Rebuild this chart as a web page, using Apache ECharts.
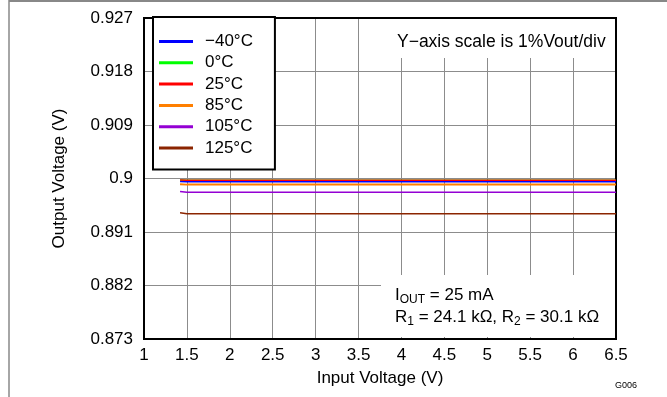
<!DOCTYPE html>
<html>
<head>
<meta charset="utf-8">
<script src="https://cdn.jsdelivr.net/npm/echarts@6/dist/echarts.min.js"></script>
<style>
    html, body { margin: 0; padding: 0; background: #fff; }
    #chart { width: 667px; height: 397px; }
</style>
</head>
<body>
<div id="chart"></div>
<script>
// input voltage sample points (V)
var inputVoltage = [1.42, 1.5, 6.5];

// output voltage per temperature (V)
var vMinus40 = [0.89950, 0.89946, 0.89946];
var v0 = [0.89974, 0.89971, 0.89971];
var v25 = [0.89974, 0.89970, 0.89970];
var v85 = [0.89905, 0.89897, 0.89897];
var v105 = [0.89782, 0.89768, 0.89768];
var v125 = [0.89424, 0.89408, 0.89408];

var seriesNames = ['\u221240\u00b0C', '0\u00b0C', '25\u00b0C', '85\u00b0C', '105\u00b0C', '125\u00b0C'];
var seriesColors = ['#0000FF', '#00FF00', '#FF0000', '#FF7F00', '#9400D3', '#8B2500'];
var seriesValues = [vMinus40, v0, v25, v85, v105, v125];

var xTickLabels = ['1', '1.5', '2', '2.5', '3', '3.5', '4', '4.5', '5', '5.5', '6', '6.5'];
var yTickLabels = ['0.873', '0.882', '0.891', '0.9', '0.909', '0.918', '0.927'];

var FONT = "'Liberation Sans', Arial, Helvetica, sans-serif";

var CHART = {
    ID: 'chart',
    ini: function () {
        var chart = echarts.init(document.getElementById(this.ID));
        chart.setOption(this.option());
    },
    buildSeries: function () {
        var list = [];
        for (var i = 0; i < seriesNames.length; i++) {
            var points = [];
            for (var j = 0; j < inputVoltage.length; j++) {
                points.push([inputVoltage[j], seriesValues[i][j]]);
            }
            list.push({
                name: seriesNames[i],
                type: 'line',
                data: points,
                symbol: 'none',
                z: 5,
                lineStyle: { color: seriesColors[i], width: i === 3 ? 2 : 1.5 },
                itemStyle: { color: seriesColors[i] }
            });
        }
        return list;
    },
    option: function () {
        return {
            animation: false,
            textStyle: { fontFamily: FONT },
            grid: {
                left: 144, right: 51, top: 18, bottom: 58,
                show: true,
                borderColor: '#000',
                borderWidth: 2,
                z: 3
            },
            legend: {
                orient: 'vertical',
                left: 153,
                top: 17,
                padding: [16, 22, 13, 6],
                icon: 'path://M0,0 L34,0 L34,3 L0,3 Z',
                itemWidth: 34,
                itemHeight: 14,
                itemGap: 4.3,
                backgroundColor: '#fff',
                borderColor: '#000',
                borderWidth: 2,
                textStyle: { fontSize: 17, color: '#000', fontFamily: FONT, padding: [0, 0, 0, 7] },
                data: seriesNames
            },
            xAxis: {
                type: 'value',
                min: 1,
                max: 6.5,
                interval: 0.5,
                name: 'Input Voltage (V)',
                nameLocation: 'middle',
                nameGap: 31,
                nameTextStyle: { fontSize: 17, color: '#000', fontFamily: FONT },
                axisLine: { show: false },
                axisTick: { show: false },
                axisLabel: {
                    fontSize: 17, color: '#000', margin: 8,
                    formatter: function (v, i) { return xTickLabels[i]; }
                },
                splitLine: { show: true, lineStyle: { color: '#8c8c8c', width: 1 } }
            },
            yAxis: {
                type: 'value',
                min: 0.873,
                max: 0.927,
                interval: 0.009,
                name: 'Output Voltage (V)',
                nameLocation: 'middle',
                nameGap: 76,
                nameTextStyle: { fontSize: 17, color: '#000', fontFamily: FONT },
                axisLine: { show: false },
                axisTick: { show: false },
                axisLabel: {
                    fontSize: 17, color: '#000', margin: 11,
                    formatter: function (v, i) { return yTickLabels[i]; }
                },
                splitLine: { show: true, lineStyle: { color: '#8c8c8c', width: 1 } }
            },
            graphic: [
                // outer frame
                { type: 'line', shape: { x1: 9, y1: 0, x2: 9, y2: 397 }, style: { stroke: '#888', lineWidth: 1.5 } },
                { type: 'line', shape: { x1: 9, y1: 1, x2: 667, y2: 1 }, style: { stroke: '#888', lineWidth: 2 } },
                // note boxes over the grid
                { type: 'rect', z: 4, shape: { x: 384, y: 19, width: 231, height: 39 }, style: { fill: '#fff' } },
                { type: 'rect', z: 4, shape: { x: 381, y: 275, width: 234, height: 62 }, style: { fill: '#fff' } },
                {
                    type: 'text', z: 6, left: 397, top: 33,
                    style: { text: 'Y\u2212axis scale is 1%Vout/div', fontSize: 17.5, fill: '#000', fontFamily: FONT }
                },
                {
                    type: 'text', z: 6, left: 395, top: 284,
                    style: {
                        text: 'I{sub|OUT} = 25 mA\nR{sub|1} = 24.1 k\u03a9, R{sub|2} = 30.1 k\u03a9',
                        fontSize: 17, fill: '#000', fontFamily: FONT, lineHeight: 22,
                        rich: {
                            sub: { fontSize: 12, fontFamily: FONT, fill: '#000', verticalAlign: 'bottom', lineHeight: 22 }
                        }
                    }
                },
                {
                    type: 'text', z: 6, left: 615, top: 381,
                    style: { text: 'G006', fontSize: 9, fill: '#000', fontFamily: FONT }
                }
            ],
            series: this.buildSeries()
        };
    }
};

CHART.ini();
</script>
</body>
</html>
